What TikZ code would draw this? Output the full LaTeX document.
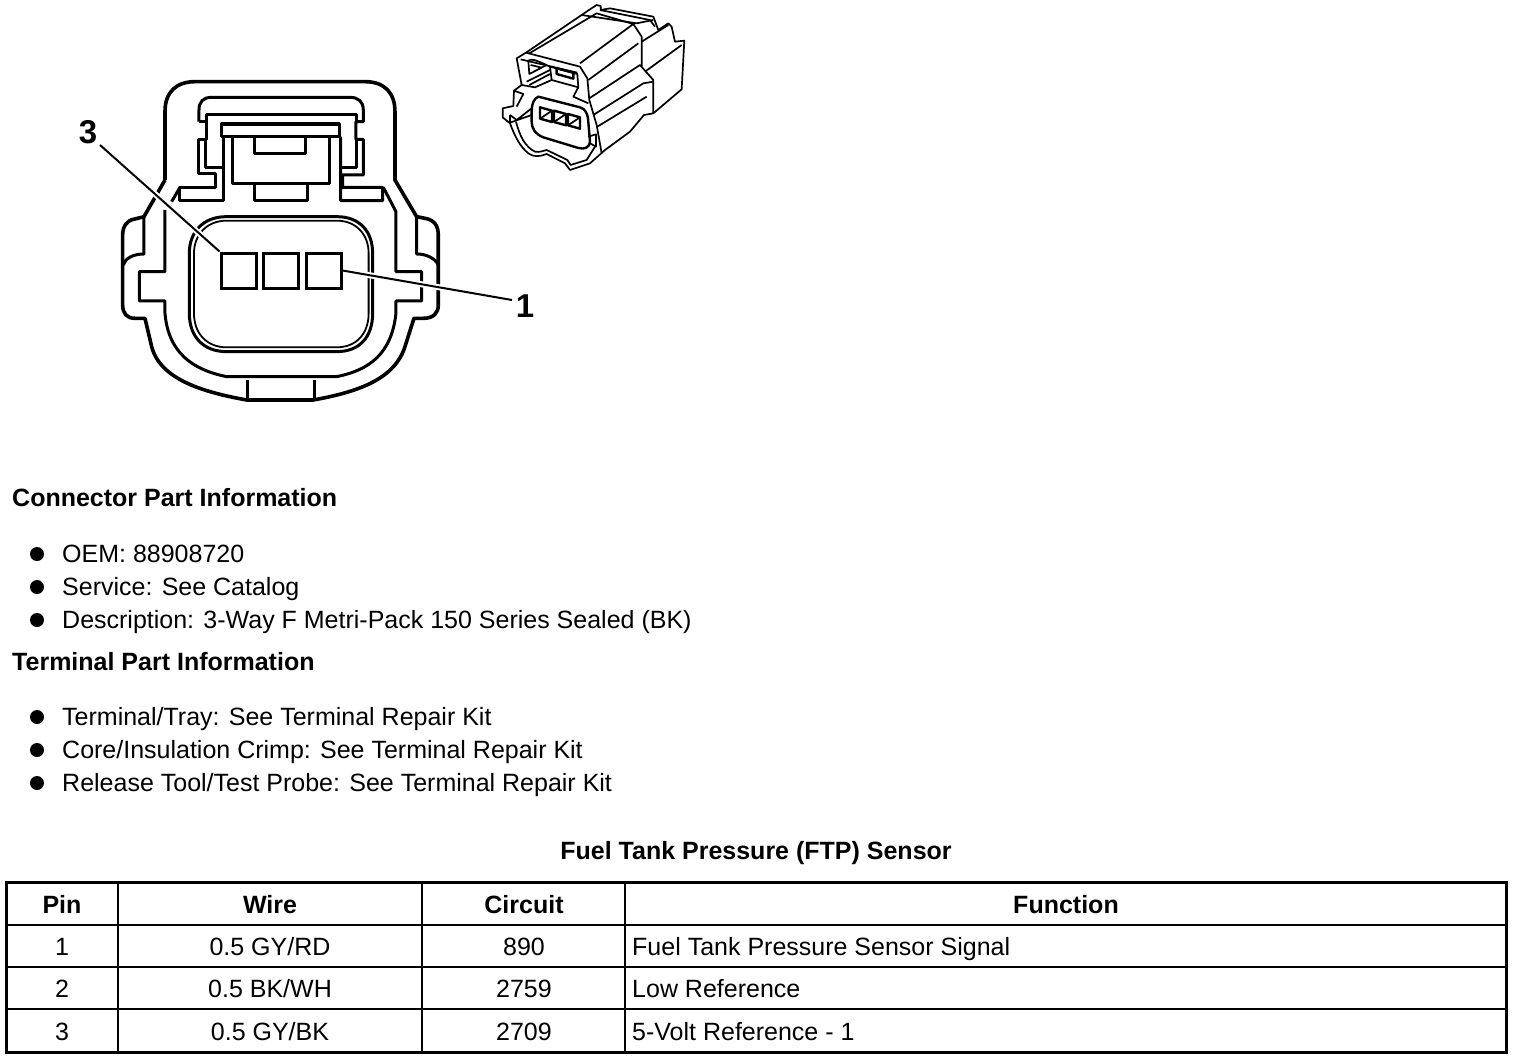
\documentclass[tikz,border=0pt]{standalone}
\usepackage{fontspec}
\usetikzlibrary{calc}
\setmainfont{Liberation Sans}
\tikzset{
 body/.style={font=\fontsize{25}{28}\selectfont},
 txt/.style={body,anchor=base west,inner sep=0pt},
 head/.style={txt,font=\fontsize{25}{28}\selectfont\bfseries},
 cell/.style={body,anchor=base,inner sep=0pt},
 hcell/.style={cell,font=\fontsize{25}{28}\selectfont\bfseries},
 callout/.style={anchor=center,inner sep=0pt,font=\fontsize{33}{36}\selectfont\bfseries},
 bul/.style={circle,fill=black,inner sep=0pt,minimum size=14pt},
 hv/.style={line width=3.6pt,line join=round},
 md/.style={line width=3pt,line join=round},
 thin3/.style={line width=1.8pt,line join=round},
 iso/.style={line width=1.7pt,line join=round},
 isob/.style={line width=2.4pt,line join=round},
 leader/.style={line width=2pt},
 halo/.style={line width=6pt,white},
 pin/.style={draw,line width=3pt,minimum width=35pt,minimum height=35pt,inner sep=0pt},
 grid/.style={line width=1.5pt},
 frame/.style={line width=3pt},
 big/.style={x=0.3333pt,y=-0.3333pt,shift={(70pt,-70pt)}},
 small/.style={x=0.3333pt,y=-0.3333pt,shift={(490pt,0pt)}}
}
\begin{document}
\begin{tikzpicture}[x=1pt,y=-1pt]
\useasboundingbox (0,0) rectangle (1520,1058);
\fill[white] (0,0) rectangle (1520,1058);
% front view of connector
\begin{scope}[big]
\draw[hv] (285,330) -- (285,125) .. controls (285,65) and (320,35) .. (375,35) -- (885,35) .. controls (945,35) and (975,70) .. (975,125) -- (975,330) -- (1040,440) -- (1065,445) .. controls (1095,450) and (1105,470) .. (1105,495) -- (1105,705) .. controls (1105,730) and (1090,745) .. (1060,745) -- (1032,745) -- (1005,830) .. controls (975,925) and (870,965) .. (730,990) -- (530,990) .. controls (390,965) and (270,925) .. (245,830) -- (225,745) -- (195,745) .. controls (170,745) and (158,730) .. (158,705) -- (158,495) .. controls (158,470) and (170,450) .. (195,447) -- (222,440) -- (285,330);
\draw[md] (160,585) .. controls (165,565) and (190,552) .. (222,552) -- (222,440);
\draw[md] (1105,585) .. controls (1095,565) and (1070,552) .. (1040,552) -- (1040,440);
% inner collar
\draw[md] (285,420) -- (285,605) -- (208,605) -- (208,693) -- (285,693) -- (285,730) .. controls (295,850) and (370,900) .. (470,920) -- (800,920) .. controls (900,900) and (965,850) .. (978,730) -- (978,693) -- (1055,693) -- (1055,605) -- (978,605) -- (978,425) -- (940,352);
\draw[md] (305,395) -- (330,352);
% latch
\draw[md] (387,155) -- (387,120) .. controls (387,95) and (400,82) .. (425,82) -- (840,82) .. controls (865,82) and (880,95) .. (880,120) -- (880,155) -- (858,155) -- (858,208) -- (880,208) -- (880,315) -- (818,315) -- (818,352) -- (938,352) -- (938,392) -- (812,392) -- (812,200);
\draw[md] (462,200) -- (462,392) -- (330,392) -- (330,352) -- (438,352) -- (438,310) -- (387,310) -- (387,208) -- (410,208) -- (410,155) -- (387,155);
\draw[md] (410,155) -- (410,135) -- (860,135) -- (860,155);
\draw[md] (408,208) -- (408,292) -- (455,292);
\draw[md] (860,208) -- (860,292) -- (815,292);
\draw[hv] (455,200) -- (455,162) -- (808,162) -- (808,200) -- cycle;
\draw[md] (488,200) -- (488,340) -- (778,340) -- (778,200);
\draw[md] (555,205) -- (555,250) -- (708,250) -- (708,205);
\draw[md] (555,340) -- (555,392) -- (712,392) -- (712,340);
% socket
\draw[md] (470,440) -- (800,440) .. controls (870,440) and (908,485) .. (908,550) -- (908,730) .. controls (908,800) and (870,845) .. (800,845) -- (470,845) .. controls (400,845) and (358,800) .. (358,730) -- (358,550) .. controls (358,485) and (400,440) .. (470,440) -- cycle;
\draw[thin3] (470,452) -- (800,452) .. controls (860,452) and (896,495) .. (896,550) -- (896,730) .. controls (896,790) and (860,832) .. (800,832) -- (470,832) .. controls (410,832) and (372,790) .. (372,730) -- (372,550) .. controls (372,495) and (410,452) .. (470,452) -- cycle;
% key at bottom
\draw[md] (532,930) -- (532,990) (735,930) -- (735,990);
\end{scope}
% pins
\node[pin] (p3) at (238.5,270.5) {};
\node[pin] (p2) at (280.5,270.5) {};
\node[pin] (p1) at (323.5,270.5) {};
\node[callout] (n3) at (88,132) {3};
\node[callout] (n1) at (525,306) {1};
\coordinate (n3e) at (100,145);
\coordinate (n1e) at (512,300);
\draw[halo] ($(n3e)!0.35!(p3.north west)$) -- ($(n3e)!0.95!(p3.north west)$);
\draw[halo] ($(p1.east)!0.06!(n1e)$) -- ($(p1.east)!0.7!(n1e)$);
\draw[leader] (n3e) -- (p3.north west);
\draw[leader] (p1.east) -- (n1e);
% iso view of connector
\begin{scope}[small]
\draw[iso] (108,158) -- (300,28) -- (320,15) -- (332,18) -- (332,30) -- (360,25) -- (490,50) -- (505,90) -- (535,70) -- (545,80) -- (555,125) -- (583,122) -- (575,268) -- (490,340) -- (462,345) -- (420,395) -- (345,450) -- (300,490) -- (240,510) -- (225,490) -- (170,462) .. controls (150,470) and (130,472) .. (115,460) .. controls (90,440) and (75,410) .. (60,370) -- (38,352) -- (38,325) -- (70,318) -- (72,272) -- (95,255) -- (80,175) -- cycle;
\draw[iso] (118,160) -- (320,40) -- (430,72) -- (270,190);
\draw[iso] (330,30) -- (480,60) -- (495,80);
\draw[iso] (275,45) -- (440,70) -- (490,60);
\draw[iso] (108,158) -- (270,200) -- (292,235) -- (298,300) -- (320,375) -- (335,460);
\draw[iso] (92,178) -- (262,218);
\draw[iso] (295,240) -- (445,130);
\draw[iso] (298,295) -- (450,195) -- (490,240) -- (490,340);
\draw[iso] (310,345) -- (460,250) -- (490,245);
\draw[iso] (322,380) -- (470,290);
\draw[iso] (430,72) -- (455,110) -- (455,200);
\draw[iso] (455,125) -- (535,75);
\draw[iso] (465,215) -- (575,135);
% socket face
\draw[isob] (145,290) -- (270,322) .. controls (285,326) and (292,340) .. (294,355) -- (300,425) .. controls (300,440) and (285,450) .. (265,444) -- (160,412) .. controls (135,402) and (125,385) .. (125,365) -- (125,330) .. controls (126,310) and (132,296) .. (145,290) -- cycle;
\foreach \a/\b in {150/0,192/10,234/20}{
 \draw[isob] (\a,322+\b) -- (\a+36,332+\b) -- (\a+36,366+\b) -- (\a,356+\b) -- cycle;
 \draw[iso] (\a,356+\b) -- (\a+36,332+\b);
}
% upper openings
\draw[iso] (115,182) .. controls (125,175) and (135,180) .. (170,195) -- (118,222) -- cycle;
\draw[iso] (122,195) -- (155,203);
\draw[isob] (200,205) -- (250,218) -- (250,236) -- (200,222) -- cycle;
\draw[iso] (180,200) -- (262,222) -- (265,262) -- (185,240) -- cycle;
\draw[iso] (110,245) -- (180,210) (118,255) -- (180,222);
\draw[iso] (95,255) -- (135,262) -- (185,240);
\draw[iso] (72,272) -- (100,282) -- (80,320);
\draw[iso] (265,262) -- (250,290) -- (295,310);
\draw[iso] (295,410) -- (318,403) -- (318,440) -- (300,430);
\draw[iso] (60,345) -- (80,360) -- (125,325) (60,345) -- (60,368) -- (125,345);
% rim
\draw[iso] (78,365) .. controls (90,410) and (105,440) .. (135,455) .. controls (150,458) and (160,452) .. (170,450) -- (232,480) -- (242,495) -- (290,480) -- (315,440);
\end{scope}
% text
\node[head] (h1) at (12,506) {Connector Part Information};
\node[bul] (b1) at (37,554) {};
\node[bul] (b2) at (37,587) {};
\node[bul] (b3) at (37,620) {};
\node[txt] (t1) at (62,562) {OEM: 88908720};
\node[txt] (t2) at (62,595) {Service: See Catalog};
\node[txt] (t3) at (62,628) {Description: 3-Way F Metri-Pack 150 Series Sealed (BK)};
\node[head] (h2) at (12,670) {Terminal Part Information};
\node[bul] (b4) at (37,717) {};
\node[bul] (b5) at (37,750) {};
\node[bul] (b6) at (37,783) {};
\node[txt] (t4) at (62,725) {Terminal/Tray: See Terminal Repair Kit};
\node[txt] (t5) at (62,758) {Core/Insulation Crimp: See Terminal Repair Kit};
\node[txt] (t6) at (62,791) {Release Tool/Test Probe: See Terminal Repair Kit};
\node[hcell] (title) at (756,859) {Fuel Tank Pressure (FTP) Sensor};
% table
\draw[grid] (118,882) -- (118,1052) (422,882) -- (422,1052) (625,882) -- (625,1052);
\draw[grid] (5,925) -- (1507,925) (5,967) -- (1507,967) (5,1009) -- (1507,1009);
\draw[frame] (6,882) rectangle (1506,1052);
\node[hcell] at (62,913) {Pin};
\node[hcell] at (270,913) {Wire};
\node[hcell] at (524,913) {Circuit};
\node[hcell] at (1066,913) {Function};
\node[cell] at (62,955) {1};
\node[cell] at (270,955) {0.5 GY/RD};
\node[cell] at (524,955) {890};
\node[txt] at (632,955) {Fuel Tank Pressure Sensor Signal};
\node[cell] at (62,997) {2};
\node[cell] at (270,997) {0.5 BK/WH};
\node[cell] at (524,997) {2759};
\node[txt] at (632,997) {Low Reference};
\node[cell] at (62,1040) {3};
\node[cell] at (270,1040) {0.5 GY/BK};
\node[cell] at (524,1040) {2709};
\node[txt] at (632,1040) {5-Volt Reference - 1};
\end{tikzpicture}
\end{document}
